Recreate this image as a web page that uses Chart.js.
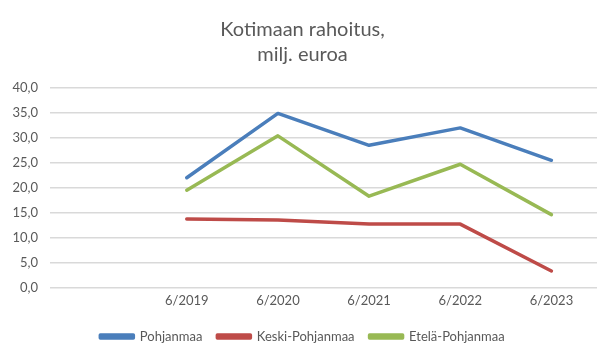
<!DOCTYPE html>
<html>
<head>
<meta charset="utf-8">
<script src="https://cdn.jsdelivr.net/npm/chart.js@4"></script>
<style>
  html, body { margin: 0; padding: 0; background: #fff; }
  #wrap { width: 615px; height: 362px; }
</style>
</head>
<body>
<div id="wrap"><canvas id="chart" width="615" height="362"></canvas></div>
<script>
// categories (first slot is empty, as in the original)
const categories = ["", "6/2019", "6/2020", "6/2021", "6/2022", "6/2023"];

// series values, milj. euroa
const pohjanmaa = [null, 22.0, 34.9, 28.5, 32.0, 25.5];
const keskiPohjanmaa = [null, 13.7, 13.5, 12.7, 12.7, 3.3];
const etelaPohjanmaa = [null, 19.5, 30.4, 18.3, 24.7, 14.6];

// y ticks
const yMin = 0;
const yMax = 40;
const yStep = 5;

const textColor = "#595959";
const gridColor = "#d9d9d9";
const fontFamily = "Lato, 'Open Sans', sans-serif";

function line(label, data, color) {
  return {
    label: label,
    data: data,
    borderColor: color,
    backgroundColor: color,
    borderWidth: 3.5,
    pointRadius: 0,
    tension: 0,
    borderCapStyle: "round",
    borderJoinStyle: "round",
  };
}

const ctx = document.getElementById("chart").getContext("2d");
new Chart(ctx, {
  type: "line",
  data: {
    labels: categories,
    datasets: [
      line("Pohjanmaa", pohjanmaa, "#4a7ebb"),
      line("Keski-Pohjanmaa", keskiPohjanmaa, "#be4b48"),
      line("Etelä-Pohjanmaa", etelaPohjanmaa, "#98b954"),
    ],
  },
  options: {
    responsive: false,
    animation: false,
    layout: { padding: { left: 8, right: 18, top: 4, bottom: 9 } },
    plugins: {
      title: {
        display: true,
        text: ["Kotimaan rahoitus,", "milj. euroa"],
        color: textColor,
        font: { family: fontFamily, size: 20, weight: "normal", lineHeight: 1.25 },
        padding: { top: 13, bottom: 21 },
      },
      legend: {
        position: "bottom",
        labels: {
          color: textColor,
          font: { family: fontFamily, size: 13 },
          boxWidth: 33,
          boxHeight: 3,
          padding: 15,
        },
      },
      tooltip: { enabled: false },
    },
    scales: {
      x: {
        offset: true,
        grid: { display: false, drawTicks: false },
        border: { display: false },
        ticks: {
          color: textColor,
          font: { family: fontFamily, size: 13 },
          padding: 6,
          maxRotation: 0,
        },
      },
      y: {
        min: yMin,
        max: yMax,
        afterFit: (scale) => { scale.width = 42; },
        grid: { color: gridColor, lineWidth: 1.5, drawTicks: false },
        border: { display: false },
        ticks: {
          stepSize: yStep,
          color: textColor,
          font: { family: fontFamily, size: 13 },
          padding: 12,
          callback: (v) => v.toFixed(1).replace(".", ","),
        },
      },
    },
  },
});
</script>
</body>
</html>
